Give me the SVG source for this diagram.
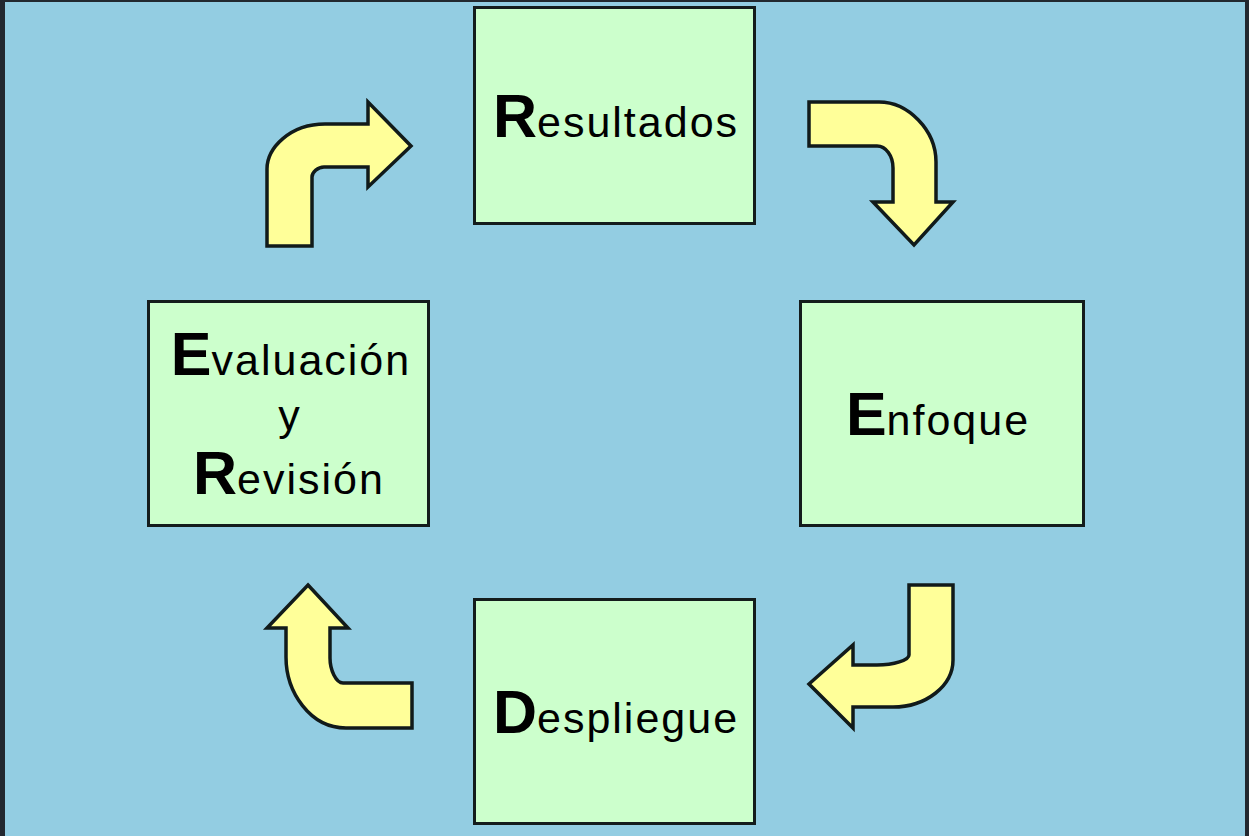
<svg xmlns="http://www.w3.org/2000/svg" width="1249" height="836" viewBox="0 0 1249 836">
<style>
.frame{fill:#22282f}
.bg{fill:#93cde2}
.box{fill:#ccffcc;stroke:#141c1c;stroke-width:3}
.arrow{fill:#ffff99;stroke:#111a1a;stroke-width:3.5;stroke-linejoin:miter}
.lbl{font-family:"Liberation Sans",Arial,sans-serif;font-size:43px;letter-spacing:2px;fill:#000;text-anchor:middle}
.cap{font-size:61px;font-weight:bold;letter-spacing:0}
</style>
<rect class="frame" x="0" y="0" width="1249" height="836"/>
<rect class="bg" x="5" y="2" width="1240" height="834"/>
<g id="connectors">
<path class="arrow" d="M267,246 L267,169 C267,148 290,124 325,124 L368,124 L368,102 L411,146 L368,187 L368,167 L324,167 C318,167 312,172 312,177 L312,246 Z"/>
<path class="arrow" d="M809,102 L879,102 C908,102 936,130 936,162 L936,202 L953,202 L914,245 L873,202 L893,202 L893,168 C893,156 886,146 877,146 L809,146 Z"/>
<path class="arrow" d="M909,585 L953,585 L953,660 C953,686 926,707 893,707 L853,707 L853,728 L809,684 L853,645 L853,665 L877,665 C894,665 909,660 909,655 Z"/>
<path class="arrow" d="M308,585 L348,628 L330,628 L330,658 C330,670 336,683 343,683 L412,683 L412,728 L346,728 C310,728 286,692 286,657 L286,628 L267,628 Z"/>
</g>
<g id="node-resultados">
<rect class="box" x="474.5" y="7.5" width="280" height="216"/>
<text class="lbl" x="616" y="137"><tspan class="cap">R</tspan>esultados</text>
</g>
<g id="node-enfoque">
<rect class="box" x="800.5" y="301.5" width="283" height="224"/>
<text class="lbl" x="938" y="435"><tspan class="cap">E</tspan>nfoque</text>
</g>
<g id="node-despliegue">
<rect class="box" x="474.5" y="599.5" width="280" height="224"/>
<text class="lbl" x="616" y="733"><tspan class="cap">D</tspan>espliegue</text>
</g>
<g id="node-evaluacion">
<rect class="box" x="148.5" y="301.5" width="280" height="224"/>
<text class="lbl" x="291" y="375"><tspan class="cap">E</tspan>valuación</text>
<text class="lbl" x="290" y="430">y</text>
<text class="lbl" x="289" y="494"><tspan class="cap">R</tspan>evisión</text>
</g>
</svg>
